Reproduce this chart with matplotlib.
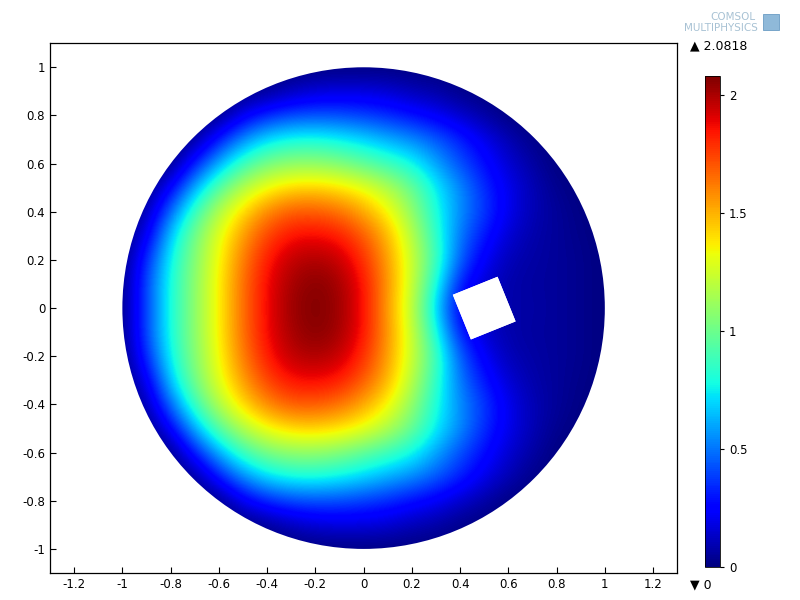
import numpy as np
import matplotlib.pyplot as plt
from matplotlib.path import Path
from matplotlib.patches import PathPatch, Polygon, Rectangle

plt.rcParams['axes.unicode_minus'] = False
plt.rcParams['font.family'] = ['DejaVu Sans']

# ---------- DATA ----------
# sample grid (0.1 spacing), rows from y=1.1 down to y=-1.1
grid_x = [-1.1, -1.0, -0.9, -0.8, -0.7, -0.6, -0.5, -0.4, -0.3, -0.2, -0.1, 0.0,
          0.1, 0.2, 0.3, 0.4, 0.5, 0.6, 0.7, 0.8, 0.9, 1.0, 1.1]
grid_y = [1.1, 1.0, 0.9, 0.8, 0.7, 0.6, 0.5, 0.4, 0.3, 0.2, 0.1, 0.0,
          -0.1, -0.2, -0.3, -0.4, -0.5, -0.6, -0.7, -0.8, -0.9, -1.0, -1.1]

row_p11 = [0] * 23
row_p10 = [0] * 23
row_p09 = [0, 0, 0, 0, 0, 0, 0, 0.03, 0.10, 0.15, 0.17, 0.17, 0.15, 0.10, 0.07, 0.02, 0, 0, 0, 0, 0, 0, 0]
row_p08 = [0, 0, 0, 0, 0, 0, 0.20, 0.33, 0.40, 0.42, 0.41, 0.38, 0.34, 0.28, 0.22, 0.14, 0.07, 0, 0, 0, 0, 0, 0]
row_p07 = [0, 0, 0, 0, 0.03, 0.30, 0.55, 0.72, 0.79, 0.80, 0.76, 0.70, 0.62, 0.55, 0.45, 0.33, 0.20, 0.10, 0.02, 0, 0, 0, 0]
row_p06 = [0, 0, 0, 0, 0.30, 0.62, 0.88, 1.03, 1.09, 1.09, 1.05, 0.96, 0.88, 0.78, 0.60, 0.42, 0.28, 0.15, 0.07, 0, 0, 0, 0]
row_p05 = [0, 0, 0, 0.22, 0.62, 0.95, 1.18, 1.34, 1.42, 1.44, 1.40, 1.32, 1.18, 1.00, 0.75, 0.55, 0.35, 0.20, 0.10, 0.03, 0, 0, 0]
row_p04 = [0, 0, 0.07, 0.48, 0.88, 1.18, 1.42, 1.60, 1.70, 1.70, 1.65, 1.53, 1.36, 1.10, 0.80, 0.55, 0.38, 0.20, 0.10, 0.05, 0.01, 0, 0]
row_p03 = [0, 0, 0.18, 0.68, 1.02, 1.30, 1.55, 1.75, 1.86, 1.88, 1.84, 1.70, 1.50, 1.20, 0.85, 0.50, 0.30, 0.15, 0.08, 0.05, 0.02, 0, 0]
row_p02 = [0, 0, 0.33, 0.77, 1.06, 1.34, 1.62, 1.84, 1.97, 2.00, 1.96, 1.80, 1.55, 1.25, 0.90, 0.45, 0.22, 0.10, 0.07, 0.05, 0.03, 0, 0]
row_p01 = [0, 0, 0.40, 0.80, 1.08, 1.36, 1.65, 1.88, 2.01, 2.07, 2.02, 1.86, 1.57, 1.25, 0.80, 0.30, 0.15, 0.08, 0.06, 0.05, 0.03, 0, 0]
row_000 = [0, 0, 0.40, 0.80, 1.08, 1.36, 1.65, 1.88, 2.03, 2.08, 2.03, 1.87, 1.55, 1.22, 0.70, 0.20, 0.12, 0.08, 0.07, 0.05, 0.03, 0, 0]
row_m01 = [0, 0, 0.40, 0.80, 1.08, 1.36, 1.65, 1.88, 2.01, 2.07, 2.02, 1.86, 1.57, 1.25, 0.80, 0.30, 0.15, 0.08, 0.06, 0.05, 0.03, 0, 0]
row_m02 = [0, 0, 0.33, 0.77, 1.06, 1.34, 1.62, 1.84, 1.97, 2.00, 1.96, 1.80, 1.55, 1.25, 0.90, 0.45, 0.22, 0.10, 0.07, 0.05, 0.03, 0, 0]
row_m03 = [0, 0, 0.18, 0.68, 1.02, 1.30, 1.55, 1.75, 1.86, 1.88, 1.84, 1.70, 1.50, 1.20, 0.85, 0.50, 0.30, 0.15, 0.08, 0.05, 0.02, 0, 0]
row_m04 = [0, 0, 0.07, 0.48, 0.88, 1.18, 1.42, 1.60, 1.70, 1.70, 1.65, 1.53, 1.36, 1.10, 0.80, 0.55, 0.38, 0.20, 0.10, 0.05, 0.01, 0, 0]
row_m05 = [0, 0, 0, 0.22, 0.62, 0.95, 1.18, 1.34, 1.42, 1.44, 1.40, 1.32, 1.18, 1.00, 0.75, 0.55, 0.35, 0.20, 0.10, 0.03, 0, 0, 0]
row_m06 = [0, 0, 0, 0, 0.30, 0.62, 0.88, 1.03, 1.09, 1.09, 1.05, 0.96, 0.88, 0.78, 0.60, 0.42, 0.28, 0.15, 0.07, 0, 0, 0, 0]
row_m07 = [0, 0, 0, 0, 0.03, 0.30, 0.55, 0.72, 0.79, 0.80, 0.76, 0.70, 0.62, 0.55, 0.45, 0.33, 0.20, 0.10, 0.02, 0, 0, 0, 0]
row_m08 = [0, 0, 0, 0, 0, 0, 0.20, 0.33, 0.40, 0.42, 0.41, 0.38, 0.34, 0.28, 0.22, 0.14, 0.07, 0, 0, 0, 0, 0, 0]
row_m09 = [0, 0, 0, 0, 0, 0, 0, 0.03, 0.10, 0.15, 0.17, 0.17, 0.15, 0.10, 0.07, 0.02, 0, 0, 0, 0, 0, 0, 0]
row_m10 = [0] * 23
row_m11 = [0] * 23

field_max = 2.0818
field_min = 0.0
cbar_ticks = [0, 0.5, 1, 1.5, 2]
cbar_labels = ["0", "0.5", "1", "1.5", "2"]
x_ticks = [-1.2, -1.0, -0.8, -0.6, -0.4, -0.2, 0.0, 0.2, 0.4, 0.6, 0.8, 1.0, 1.2]
y_ticks = [-1.0, -0.8, -0.6, -0.4, -0.2, 0.0, 0.2, 0.4, 0.6, 0.8, 1.0]

# domain: unit disc with a rotated square hole
disc_radius = 1.0
hole_center = (0.5, 0.0)
hole_side = 0.2
hole_angle = 22.0

field = np.array([row_p11, row_p10, row_p09, row_p08, row_p07, row_p06, row_p05, row_p04,
                  row_p03, row_p02, row_p01, row_000, row_m01, row_m02, row_m03, row_m04,
                  row_m05, row_m06, row_m07, row_m08, row_m09, row_m10, row_m11])

# ---------- GEOMETRY ----------
a = np.deg2rad(hole_angle)
h = hole_side / 2
local = np.array([[-h, -h], [-h, h], [h, h], [h, -h]])  # clockwise
rot = np.array([[np.cos(a), -np.sin(a)], [np.sin(a), np.cos(a)]])
hole_pts = local @ rot.T + np.array(hole_center)

circle = Path.circle((0, 0), disc_radius)
hole = Path(np.vstack([hole_pts, hole_pts[:1]]),
            [Path.MOVETO, Path.LINETO, Path.LINETO, Path.LINETO, Path.CLOSEPOLY])
domain = Path.make_compound_path(circle, hole)

# ---------- PLOTTING ----------
fig = plt.figure(figsize=(8, 6), dpi=100)
ax = fig.add_axes([0.0625, 0.045, 0.784, 0.883])

dx = 0.05
im = ax.imshow(field, cmap='jet', vmin=field_min, vmax=field_max,
               extent=[grid_x[0] - dx, grid_x[-1] + dx, grid_y[-1] - dx, grid_y[0] + dx],
               origin='upper', interpolation='bicubic', aspect='auto')
clip = PathPatch(domain, transform=ax.transData, facecolor='none', edgecolor='none')
ax.add_patch(clip)
im.set_clip_path(clip)
ax.add_patch(Polygon(hole_pts, closed=True, facecolor='white', edgecolor='none', zorder=3))

ax.set_xlim(-1.3, 1.3)
ax.set_ylim(-1.1, 1.1)
ax.set_xticks(x_ticks)
ax.set_yticks(y_ticks)
ax.set_xticklabels([f"{v:g}" for v in x_ticks])
ax.set_yticklabels([f"{v:g}" for v in y_ticks])
ax.tick_params(direction='in', length=4, labelsize=8.5, width=0.8)
for s in ax.spines.values():
    s.set_linewidth(0.9)

# colorbar
cax = fig.add_axes([0.881, 0.055, 0.019, 0.818])
cb = fig.colorbar(im, cax=cax, ticks=cbar_ticks)
cb.ax.set_yticklabels(cbar_labels)
cb.ax.tick_params(labelsize=8.5, length=3, width=0.8)
cb.outline.set_linewidth(0.6)

fig.text(0.862, 0.923, "\u25B2 2.0818", fontsize=9, va='center', ha='left')
fig.text(0.862, 0.025, "\u25BC 0", fontsize=9, va='center', ha='left')

# logo
fig.text(0.944, 0.971, "COMSOL", fontsize=7.5, color='#a8c2d4', ha='right', va='center')
fig.text(0.947, 0.953, "MULTIPHYSICS", fontsize=7.5, color='#a8c2d4', ha='right', va='center')
fig.patches.append(Rectangle((0.954, 0.950), 0.020, 0.027, transform=fig.transFigure,
                             facecolor='#8fb9d9', edgecolor='#6a9cc4', linewidth=0.6))

fig.savefig("out.png", dpi=100)
